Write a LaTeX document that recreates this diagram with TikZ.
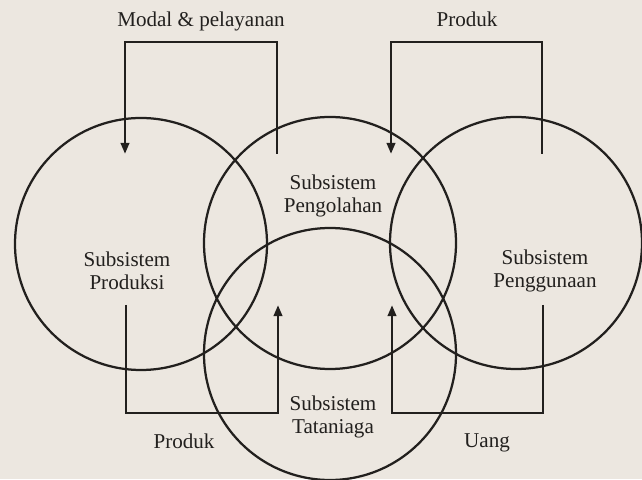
\documentclass[tikz,border=0pt]{standalone}
\usepackage{fontspec}
\setmainfont{Liberation Serif}
\usepackage{xcolor}
\usetikzlibrary{arrows.meta}
\definecolor{paper}{RGB}{236,231,224}
\definecolor{ink}{RGB}{34,32,30}

\begin{document}
\begin{tikzpicture}[font=\fontsize{15}{16.5}\selectfont, scale=1.0,
  sub/.style={circle, draw=ink, line width=1.6pt, minimum size=6.3cm, inner sep=0pt},
  lbl/.style={text=ink, align=center, inner sep=1pt},
  flow/.style={draw=ink, line width=2pt, -{Triangle[length=8pt,width=6pt]}}]
\fill[paper] (0,0) rectangle (16.05,11.975);
\useasboundingbox (0,0) rectangle (16.05,11.975);

% the four subsystems
\node[sub] (produksi)   at (3.525,5.875) {};
\node[sub] (pengolahan) at (8.25,5.9) {};
\node[sub] (penggunaan) at (12.9,5.9) {};
\node[sub] (tataniaga)  at (8.25,3.125) {};

\node[lbl] (t-produksi)   at (3.175,5.2)  {Subsistem\\Produksi};
\node[lbl] (t-pengolahan) at (8.325,7.075) {Subsistem\\Pengolahan};
\node[lbl] (t-penggunaan) at (13.625,5.2) {Subsistem\\Penggunaan};
\node[lbl] (t-tataniaga)  at (8.325,1.55) {Subsistem\\Tataniaga};

% flow ends
\coordinate (modal-s)  at (6.925,8.125);
\coordinate (modal-e)  at (3.125,8.125);
\coordinate (prodA-s)  at (13.55,8.125);
\coordinate (prodA-e)  at (9.775,8.125);
\coordinate (prodB-s)  at (3.15,4.35);
\coordinate (prodB-e)  at (6.95,4.35);
\coordinate (uang-s)   at (13.575,4.35);
\coordinate (uang-e)   at (9.8,4.35);

\draw[flow] (modal-s) -- ++(0,2.8) -| (modal-e);
\draw[flow] (prodA-s) -- ++(0,2.8) -| (prodA-e);
\draw[flow] (prodB-s) -- ++(0,-2.7) -| (prodB-e);
\draw[flow] (uang-s) -- ++(0,-2.7) -| (uang-e);

\node[lbl] (l-modal) at (5.025,11.45) {Modal \& pelayanan};
\node[lbl] (l-prodA) at (11.675,11.5) {Produk};
\node[lbl] (l-prodB) at (4.6,0.95) {Produk};
\node[lbl] (l-uang)  at (12.175,0.9) {Uang};
\end{tikzpicture}
\end{document}
